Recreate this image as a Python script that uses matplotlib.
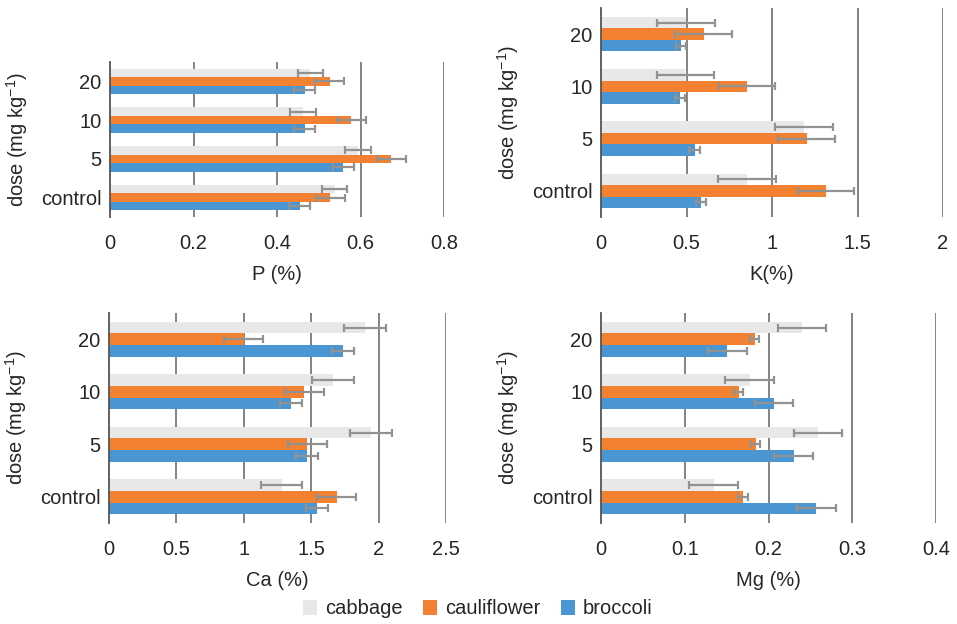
import matplotlib
matplotlib.use("Agg")
import matplotlib.pyplot as plt
from matplotlib.patches import Patch
import numpy as np

plt.rcParams['font.family'] = ['Liberation Sans', 'DejaVu Sans']

doses = ["control", "5", "10", "20"]
series = ["cabbage", "cauliflower", "broccoli"]
colors = ["#e8e8e8", "#f28131", "#4a96d2"]

# values ordered: control, 5, 10, 20
P_cabbage = [0.538, 0.594, 0.462, 0.480]
P_cauli = [0.528, 0.674, 0.578, 0.526]
P_broc = [0.454, 0.559, 0.466, 0.466]
P_err_cabbage = [0.030, 0.031, 0.031, 0.030]
P_err_cauli = [0.035, 0.035, 0.035, 0.035]
P_err_broc = [0.025, 0.025, 0.025, 0.025]

K_cabbage = [0.854, 1.189, 0.493, 0.498]
K_cauli = [1.316, 1.203, 0.854, 0.600]
K_broc = [0.584, 0.547, 0.461, 0.469]
K_err_cabbage = [0.167, 0.169, 0.167, 0.168]
K_err_cauli = [0.166, 0.167, 0.166, 0.166]
K_err_broc = [0.030, 0.030, 0.030, 0.030]

Ca_cabbage = [1.281, 1.946, 1.661, 1.899]
Ca_cauli = [1.688, 1.472, 1.450, 0.998]
Ca_broc = [1.544, 1.472, 1.353, 1.733]
Ca_err_cabbage = [0.153, 0.155, 0.155, 0.154]
Ca_err_cauli = [0.146, 0.146, 0.146, 0.146]
Ca_err_broc = [0.082, 0.082, 0.081, 0.082]

Mg_cabbage = [0.1344, 0.2592, 0.1775, 0.240]
Mg_cauli = [0.1695, 0.1846, 0.1647, 0.1835]
Mg_broc = [0.2572, 0.230, 0.2066, 0.151]
Mg_err_cabbage = [0.029, 0.029, 0.029, 0.029]
Mg_err_cauli = [0.0055, 0.0052, 0.0054, 0.0052]
Mg_err_broc = [0.023, 0.023, 0.023, 0.023]

W, H = 957, 624
fig = plt.figure(figsize=(W / 100, H / 100), dpi=100)

def box(l, r, t, b):
    return [l / W, 1 - b / H, (r - l) / W, (b - t) / H]

panels = [
    (box(110, 444, 62, 217), [P_cabbage, P_cauli, P_broc],
     [P_err_cabbage, P_err_cauli, P_err_broc], [0, 0.2, 0.4, 0.6, 0.8],
     ["0", "0.2", "0.4", "0.6", "0.8"], "P (%)"),
    (box(601, 943, 8, 217), [K_cabbage, K_cauli, K_broc],
     [K_err_cabbage, K_err_cauli, K_err_broc], [0, 0.5, 1, 1.5, 2],
     ["0", "0.5", "1", "1.5", "2"], "K(%)"),
    (box(109, 446, 313, 523), [Ca_cabbage, Ca_cauli, Ca_broc],
     [Ca_err_cabbage, Ca_err_cauli, Ca_err_broc], [0, 0.5, 1, 1.5, 2, 2.5],
     ["0", "0.5", "1", "1.5", "2", "2.5"], "Ca (%)"),
    (box(601, 936, 313, 523), [Mg_cabbage, Mg_cauli, Mg_broc],
     [Mg_err_cabbage, Mg_err_cauli, Mg_err_broc], [0, 0.1, 0.2, 0.3, 0.4],
     ["0", "0.1", "0.2", "0.3", "0.4"], "Mg (%)"),
]

FS = 14.5
TC = '#262626'
h = 0.2215
y = np.arange(len(doses))
offsets = [h, 0, -h]
for pos, vals, errs, ticks, tlabels, xlabel in panels:
    ax = fig.add_axes(pos)
    for v, e, c, off in zip(vals, errs, colors, offsets):
        ax.barh(y + off, v, height=h, color=c, zorder=2)
        ax.errorbar(v, y + off, xerr=e, fmt='none', ecolor='#929292',
                    elinewidth=1.6, capsize=3.2, capthick=1.6, zorder=3)
    ax.set_ylim(-0.5, 3.5)
    ax.set_xlim(0, ticks[-1])
    ax.set_xticks(ticks)
    ax.set_xticklabels(tlabels, fontsize=FS, color=TC)
    ax.set_yticks(y)
    ax.set_yticklabels(doses, fontsize=FS, color=TC)
    ax.tick_params(axis='both', length=0)
    ax.tick_params(axis='x', pad=12)
    ax.tick_params(axis='y', pad=6)
    for t in ticks[1:]:
        ax.axvline(t, color='#7a7a7a', lw=1.3, zorder=1)
    for s in ['top', 'right', 'bottom']:
        ax.spines[s].set_visible(False)
    ax.spines['left'].set_color('#555555')
    ax.spines['left'].set_linewidth(1.3)
    ax.set_xlabel(xlabel, fontsize=FS, color=TC, labelpad=9)
    ax.set_ylabel("dose (mg kg$^{\\mathregular{-1}}$)", fontsize=FS, color=TC, labelpad=8)
    ax.set_facecolor('none')

handles = [Patch(facecolor=c, edgecolor='none', label=s) for c, s in zip(colors, series)]
fig.legend(handles=handles, loc='center', bbox_to_anchor=(478 / W, 1 - 609 / H),
           ncol=3, frameon=False, fontsize=FS, handlelength=0.7, handleheight=0.7,
           handletextpad=0.4, columnspacing=1.0, labelcolor=TC)

fig.savefig("out.png", dpi=100)
